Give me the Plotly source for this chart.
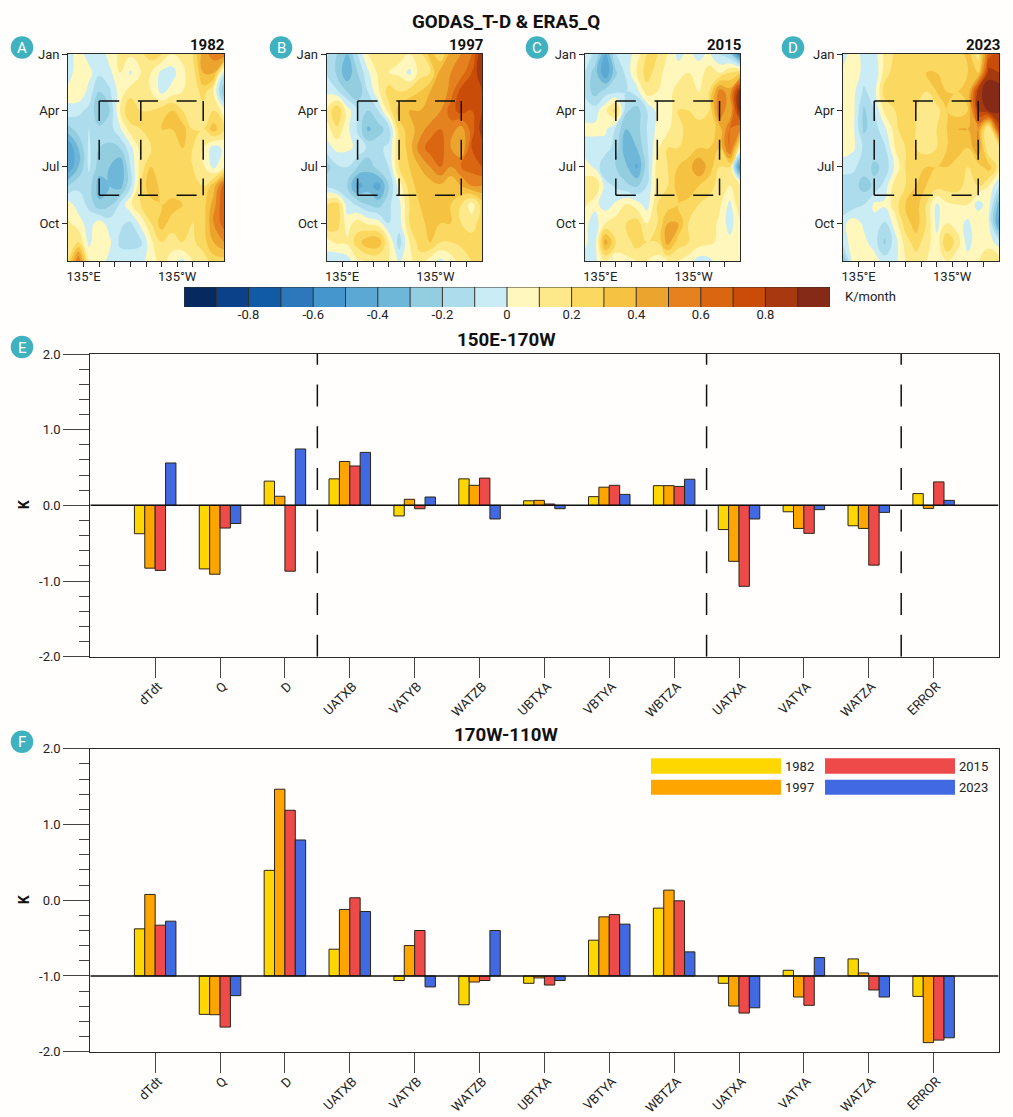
import plotly.graph_objects as go

W, H = 1013, 1117
BG = "#FFFEFC"
INK = "#2a2a2a"

LONS = [120, 130, 140, 150, 160, 170, 180, 190, 200, 210, 220, 230, 240, 250, 260, 270]
MONTH_IDX = [0, 1, 2, 3, 4, 5, 6, 7, 8, 9, 10, 11]

Z1982 = [
 [-.05,.05,-.05,-.08,.05,.12,.12,.18,.25,.2,.1,.12,.2,.45,.55,.6],
 [-.05,.06,.04,-.08,-.03,.1,-.02,.1,.1,-.03,-.05,.08,.15,.4,.4,-.08],
 [.03,.1,-.04,-.2,-.12,.05,.15,.15,.1,-.03,.05,.1,.12,.25,.1,-.3],
 [-.02,-.08,-.12,-.28,-.2,.1,.3,.2,.2,.25,.3,.2,.15,.15,.2,.05],
 [-.25,-.15,-.1,-.18,-.15,-.02,.15,.2,.2,.3,.3,.35,.2,.2,.35,.2],
 [-.5,-.3,-.08,-.2,-.22,-.2,-.04,.15,.2,.2,.25,.3,.2,.1,-.05,.02],
 [-.5,-.3,-.08,-.25,-.3,-.4,-.1,.15,.3,.28,.2,.2,.2,.12,-.03,.1],
 [-.2,-.12,-.15,-.35,-.3,-.35,-.12,.2,.4,.25,.2,.2,.2,.2,.35,.65],
 [.05,-.05,-.12,-.28,-.22,-.08,.08,.2,.25,.3,.35,.3,.22,.25,.45,.7],
 [.12,.05,-.05,.05,-.05,-.08,-.12,.03,.2,.35,.25,.28,.2,.25,.5,.65],
 [.12,.2,-.03,.1,.02,-.12,-.13,-.12,.08,.2,.15,.2,.18,.25,.4,.5],
 [.2,.6,.1,.05,-.03,-.05,-.05,-.03,.05,.15,.05,-.03,.1,.15,.25,.25],
]
Z1997 = [
 [-.08,-.2,-.3,-.1,.1,.2,.12,.12,.1,.15,.35,.2,.45,.5,.6,.9],
 [-.1,-.22,-.38,-.2,-.02,.12,.1,.08,-.03,.15,.2,.45,.5,.55,.7,.9],
 [-.02,-.08,-.2,-.28,-.1,.08,.25,.2,.25,.3,.4,.4,.55,.75,.75,.8],
 [.1,.3,.05,-.1,-.2,-.1,.15,.35,.4,.4,.4,.5,.65,.75,.7,.8],
 [.05,.18,.03,-.12,-.32,-.25,-.15,.25,.35,.45,.55,.6,.55,.45,.65,.85],
 [-.05,.03,.02,-.02,-.12,-.12,-.08,.2,.35,.55,.65,.65,.5,.4,.7,.75],
 [-.25,-.12,-.1,-.2,-.28,-.15,-.1,.2,.3,.4,.5,.6,.5,.6,.65,.7],
 [-.12,-.2,-.2,-.45,-.35,-.45,-.2,.05,.25,.35,.35,.38,.3,.4,.5,.5],
 [.2,.25,-.05,-.12,-.2,-.25,-.12,-.03,.2,.3,.35,.3,.3,.2,.05,.25],
 [.3,.25,.05,.15,.08,.05,-.1,-.05,.2,.25,.35,.3,.3,.2,.15,.25],
 [.05,.12,.12,.25,.38,.38,.1,-.15,.1,.25,.3,.2,.2,.22,.25,.3],
 [-.05,-.1,-.05,.08,.1,.1,.1,-.02,.08,.15,.05,-.03,.05,.15,.2,.25],
]
Z2015 = [
 [-.05,-.12,-.4,-.1,-.05,.04,.2,.2,.1,-.03,.02,-.03,.02,-.12,-.2,-.7],
 [-.1,-.25,-.5,-.22,-.07,.1,.25,.15,.05,.05,.1,.05,.15,.1,.2,.3],
 [-.12,-.25,-.15,-.12,-.1,-.05,.15,.1,.05,.15,.15,.1,.2,.55,.45,.95],
 [-.05,-.05,.08,.25,-.18,-.25,-.1,.03,.02,.2,.2,.15,.2,.6,.4,.95],
 [.03,.03,.02,-.12,-.3,-.25,-.1,.03,.08,.18,.22,.25,.22,.35,.6,.5],
 [-.05,-.05,-.05,-.15,-.38,-.3,-.12,.08,.2,.2,.25,.3,.3,.3,.65,.1],
 [.05,-.02,-.2,-.2,-.28,-.42,-.15,.15,.2,.3,.35,.5,.35,.2,.2,-.6],
 [.15,.2,-.05,-.12,-.18,-.22,-.1,.15,.2,.35,.4,.3,.25,.15,.1,.15],
 [.12,.03,-.05,.02,.1,.05,-.05,.2,.25,.3,.25,.2,.15,.12,-.03,.2],
 [.03,-.05,.1,.15,.2,.25,.1,.2,.4,.4,.2,.15,.15,.08,-.05,.1],
 [.02,-.05,.45,.2,.15,.25,.2,.2,.45,.25,.2,.15,.12,.08,.03,.1],
 [-.03,-.02,.1,.02,.08,.1,.1,.05,.1,.1,.05,-.05,-.03,.05,.05,.1],
]
Z2023 = [
 [-.04,.05,-.03,-.05,.12,.22,.25,.25,.25,.25,.25,.2,.35,.15,.65,.75],
 [.02,.1,-.05,-.1,.15,.25,.25,.22,.3,.3,.2,.25,.3,.3,.85,.8],
 [.03,.03,-.12,-.05,.25,.3,.3,.3,.2,.3,.3,.3,.3,.85,.98,.98],
 [.03,.03,-.22,-.1,.12,.2,.2,.2,.12,.15,.3,.25,.3,.8,.92,.92],
 [.03,.02,-.22,-.15,-.03,.15,.3,.2,.12,.2,.3,.4,.4,.5,.05,.75],
 [.03,.02,-.12,-.15,-.12,.1,.2,.2,.15,.2,.3,.35,.3,.5,.1,.15],
 [-.03,-.08,-.15,-.22,-.18,.02,.2,.22,.3,.3,.3,.25,.2,.25,.35,.15],
 [-.2,-.15,-.25,-.18,-.06,.15,.2,.3,.3,.25,.25,.25,.15,.2,.1,-.1],
 [-.2,-.15,-.1,.02,.02,.15,.3,.35,.2,-.02,.08,.1,.1,-.05,.05,-.35],
 [-.03,.06,-.02,-.03,-.12,.05,.25,.35,.2,-.03,.1,.05,-.03,.1,.02,-.45],
 [-.05,.05,.03,-.05,-.22,-.05,.15,.25,.15,.03,.3,.15,-.05,.08,.05,-.05],
 [-.3,.05,.05,.05,-.05,-.03,.1,.15,.1,.05,.1,.03,.05,.1,.2,.15],
]
LEVEL_COLORS = ["#062A60", "#0A4188", "#115BA4", "#2C78BA", "#4596CC", "#5AA8D3", "#6FB7D9",
                "#92CDE0", "#ADDDED", "#C9ECF5", "#FFF7BC", "#FEE98A", "#FBD85F", "#F5C242",
                "#EBA52F", "#E5821F", "#DA6612", "#C94D09", "#A63A0E", "#842A17"]
LEVEL_EDGES = [-1, -.9, -.8, -.7, -.6, -.5, -.4, -.3, -.2, -.1, 0, .1, .2, .3, .4, .5, .6, .7, .8, .9, 1]
LEVEL_MIDS = [-.95, -.85, -.75, -.65, -.55, -.45, -.35, -.25, -.15, -.05, .05, .15, .25, .35, .45, .55, .65, .75, .85, .95]
CB_TICKS = [-.8, -.6, -.4, -.2, 0, .2, .4, .6, .8]
CB_LABELS = ["-0.8", "-0.6", "-0.4", "-0.2", "0", "0.2", "0.4", "0.6", "0.8"]

TERMS = ["dTdt", "Q", "D", "UATXB", "VATYB", "WATZB", "UBTXA", "VBTYA", "WBTZA", "UATXA", "VATYA", "WATZA", "ERROR"]
YEARS = ["1982", "1997", "2015", "2023"]
BAR_COLORS = ["#FFD700", "#FFA500", "#EF4A4A", "#4169E1"]

E1982 = [-.375, -.84, .32, .35, -.14, .35, .06, .115, .26, -.32, -.085, -.27, .155]
E1997 = [-.83, -.91, .12, .58, .08, .265, .066, .24, .26, -.74, -.305, -.305, -.04]
E2015 = [-.86, -.30, -.87, .52, -.045, .36, .018, .265, .25, -1.07, -.37, -.79, .31]
E2023 = [.56, -.24, .745, .70, .11, -.18, -.044, .145, .345, -.18, -.057, -.093, .066]

F1982 = [-.378, -1.507, .394, -.647, -1.06, -1.38, -1.097, -.528, -.105, -1.097, -.925, -.775, -1.27]
F1997 = [.076, -1.512, 1.465, -.122, -.599, -1.08, -1.026, -.22, .133, -1.397, -1.278, -.96, -1.88]
F2015 = [-.33, -1.675, 1.187, .032, -.40, -1.06, -1.12, -.19, -.008, -1.49, -1.388, -1.185, -1.847]
F2023 = [-.277, -1.26, .795, -.149, -1.145, -.40, -1.06, -.316, -.682, -1.42, -.757, -1.278, -1.816]
F_BASE = -1.0


def px_x(x):
    return x / W


def px_y(y):
    return 1 - y / H


def dom_x(a, b):
    return [px_x(a), px_x(b)]


def dom_y(top, bottom):
    return [px_y(bottom), px_y(top)]


colorscale = []
for i, c in enumerate(LEVEL_COLORS):
    colorscale += [[i / 20, c], [(i + 1) / 20, c]]

fig = go.Figure()
layout = {}
shapes = []
annotations = []


def text(x, y, s, size=13, bold=False, color="#111", anchor="center", angle=0):
    annotations.append(dict(
        x=px_x(x), y=px_y(y), xref="paper", yref="paper", text=f"<b>{s}</b>" if bold else s,
        showarrow=False, xanchor=anchor, yanchor="middle", textangle=angle,
        font=dict(size=size, color=color, family="Roboto")))


# ---- contour panels
panels = [
    (Z1982, "1982", 68, 224, "A", 22),
    (Z1997, "1997", 326.5, 482, "B", 281),
    (Z2015, "2015", 584.7, 740.3, "C", 537),
    (Z2023, "2023", 843, 999, "D", 793),
]
LON_TICKS = [135, 150, 165, 180, 195, 210, 225, 240, 255]
LON_LABELS = ["135°E", "", "", "", "", "", "135°W", "", ""]
BOX_W, BOX_M, BOX_E = 150, 190, 250
BOX_T, BOX_B = 2.5, 7.5
for n, (z, yr, x0, x1, letter, cx) in enumerate(panels, start=1):
    xa, ya = f"x{n}", f"y{n}"
    fig.add_trace(go.Contour(
        x=LONS, y=MONTH_IDX, z=z, xaxis=xa, yaxis=ya, zmin=-1, zmax=1, autocontour=False,
        colorscale=colorscale, showscale=False, hoverinfo="skip",
        contours=dict(start=-1, end=1, size=.1, coloring="fill", showlines=False),
        line=dict(width=0, smoothing=1.3)))
    layout[f"xaxis{n}"] = dict(
        domain=dom_x(x0, x1), range=[LONS[0], LONS[-1]], anchor=ya, tickvals=LON_TICKS, ticktext=LON_LABELS,
        ticks="outside", ticklen=5, tickwidth=1, tickcolor=INK, tickangle=0, showgrid=False, zeroline=False,
        showline=True, mirror=True, linecolor=INK, linewidth=1, tickfont=dict(size=13, color="#222"),
        ticklabelstandoff=-2)
    layout[f"yaxis{n}"] = dict(
        domain=dom_y(54, 261), range=[MONTH_IDX[-1], MONTH_IDX[0]], anchor=xa, tickvals=[0, 3, 6, 9],
        ticktext=["Jan", "Apr", "Jul", "Oct"], ticks="outside", ticklen=5, tickwidth=1, tickcolor=INK,
        showgrid=False, zeroline=False, showline=True, mirror=True, linecolor=INK, linewidth=1,
        tickfont=dict(size=13, color="#222"))
    dash = "20px,18.7px"
    for (ax0, ay0, ax1, ay1) in [
        (BOX_W, BOX_T, BOX_E, BOX_T), (BOX_W, BOX_B, BOX_E, BOX_B),
        (BOX_W, BOX_T, BOX_W, BOX_B), (BOX_M, BOX_T, BOX_M, BOX_B), (BOX_E, BOX_T, BOX_E, BOX_B),
    ]:
        shapes.append(dict(type="line", xref=xa, yref=ya, x0=ax0, y0=ay0, x1=ax1, y1=ay1,
                           line=dict(color="#111", width=1.5, dash=dash)))
    text(x1 + 3, 44.5, yr, size=15, bold=True, anchor="right")
    shapes.append(dict(type="circle", xref="paper", yref="paper", x0=px_x(cx - 11.3), x1=px_x(cx + 11.3),
                       y0=px_y(47.5 + 11.3), y1=px_y(47.5 - 11.3), fillcolor="#3FB1BF", line=dict(width=0)))
    text(cx, 48, letter, size=15, color="#FFFFFF")

# ---- discrete colour bar
fig.add_trace(go.Heatmap(
    x=LEVEL_EDGES, y=[0, 1], z=[LEVEL_MIDS], xaxis="x5", yaxis="y5", zmin=-1, zmax=1,
    colorscale=colorscale, showscale=False, hoverinfo="skip"))
layout["xaxis5"] = dict(
    domain=dom_x(184, 830), range=[-1, 1], anchor="y5", tickvals=CB_TICKS, ticktext=CB_LABELS, ticks="",
    showgrid=False, zeroline=False, showline=False, ticklabelstandoff=-2,
    tickangle=0, tickfont=dict(size=13, color="#222"))
layout["yaxis5"] = dict(domain=dom_y(287, 307), range=[0, 1], anchor="x5", showticklabels=False, ticks="",
                        showgrid=False, zeroline=False, showline=False)
for lev in LEVEL_EDGES:
    shapes.append(dict(type="line", xref="x5", yref="y5", x0=lev, x1=lev, y0=0, y1=1,
                       line=dict(color="#33302a", width=1)))
shapes.append(dict(type="line", xref="x5", yref="y5", x0=-1, x1=1, y0=1, y1=1, line=dict(color="#33302a", width=1)))
text(843, 296.5, "K/month", size=13, anchor="left", color="#222")


# ---- bar panels
def bar_panel(n, series, top, bottom, base, title, letter):
    xa, ya = f"x{n}", f"y{n}"
    for yr, color, vals in zip(YEARS, BAR_COLORS, series):
        fig.add_trace(go.Bar(
            x=TERMS, y=[v - base for v in vals], base=base, name=yr, xaxis=xa, yaxis=ya, showlegend=False,
            offsetgroup=yr, marker=dict(color=color, line=dict(color="#2b2516", width=1)), hoverinfo="skip"))
    layout[f"xaxis{n}"] = dict(
        domain=dom_x(90.3, 998.5), range=[-1, 13], anchor=ya, type="category", categoryorder="array",
        categoryarray=TERMS, ticks="outside", ticklen=20, tickwidth=1, tickcolor="#444", tickangle=-45,
        showgrid=False, zeroline=False, showline=True, mirror=True, linecolor=INK, linewidth=1,
        tickfont=dict(size=13, color="#222"), ticklabelstandoff=-4, ticklabelshift=3)
    layout[f"yaxis{n}"] = dict(
        domain=dom_y(top, bottom), range=[-2, 2], anchor=xa, tickvals=[-2, -1, 0, 1, 2],
        ticktext=["-2.0", "-1.0", "0.0", "1.0", "2.0"], ticks="outside", ticklen=26, tickwidth=1, tickcolor="#444",
        minor=dict(tickvals=[-1.8, -1.6, -1.4, -1.2, -.8, -.6, -.4, -.2, .2, .4, .6, .8, 1.2, 1.4, 1.6, 1.8],
                   ticks="outside", ticklen=10, tickwidth=1, tickcolor="#444", showgrid=False),
        showgrid=False, zeroline=False, showline=True, mirror=True, linecolor=INK, linewidth=1,
        tickfont=dict(size=13, color="#222"))
    shapes.append(dict(type="line", xref=xa, yref=ya, x0=-1, x1=13, y0=base, y1=base,
                       line=dict(color="#111", width=1.5), layer="above"))
    text(506, top - 14, title, size=18.7, bold=True)
    text(24, (top + bottom) / 2, "K", size=14, bold=True, angle=-90)
    shapes.append(dict(type="circle", xref="paper", yref="paper", x0=px_x(22 - 11.3), x1=px_x(22 + 11.3),
                       y0=px_y(top - 7 + 11.3), y1=px_y(top - 7 - 11.3), fillcolor="#3FB1BF", line=dict(width=0)))
    text(22, top - 6.5, letter, size=15, color="#FFFFFF")


bar_panel(6, [E1982, E1997, E2015, E2023], 354, 656.7, 0.0, "150E-170W", "E")
bar_panel(7, [F1982, F1997, F2015, F2023], 748.7, 1051.7, F_BASE, "170W-110W", "F")

for sep in [2.5, 8.5, 11.5]:
    shapes.append(dict(type="line", xref="x6", yref="y6", x0=sep, x1=sep, y0=-2, y1=2,
                       line=dict(color="#111", width=1.5, dash="22px,19.7px")))

# ---- legend keys in the lower panel
legend_rows = [(651, 781, 758.3, 773.7, 0, 783, 766), (651, 781, 779.7, 794.7, 1, 783, 787),
               (825, 955, 758.3, 773.7, 2, 957, 766), (825, 955, 779.7, 794.7, 3, 957, 787)]
for (a, b, t, u, i, lx, ly) in legend_rows:
    shapes.append(dict(type="rect", xref="paper", yref="paper", x0=px_x(a), x1=px_x(b), y0=px_y(u), y1=px_y(t),
                       fillcolor=BAR_COLORS[i], line=dict(width=0), layer="above"))
    text(lx, ly, YEARS[i], size=13, anchor="left", color="#222")

text(506, 22.5, "GODAS_T-D &amp; ERA5_Q", size=18.8, bold=True)

fig.update_layout(
    width=W, height=H, autosize=False, margin=dict(l=0, r=0, t=0, b=0, autoexpand=False),
    paper_bgcolor=BG, plot_bgcolor=BG, barmode="group", bargap=.36, bargroupgap=0,
    font=dict(family="Roboto", size=13, color="#222"), showlegend=False,
    shapes=shapes, annotations=annotations, **layout)

fig.write_html("out.html", post_script="document.body.style.margin='0';document.body.style.background='%s';" % BG,
               config={"displayModeBar": False})
